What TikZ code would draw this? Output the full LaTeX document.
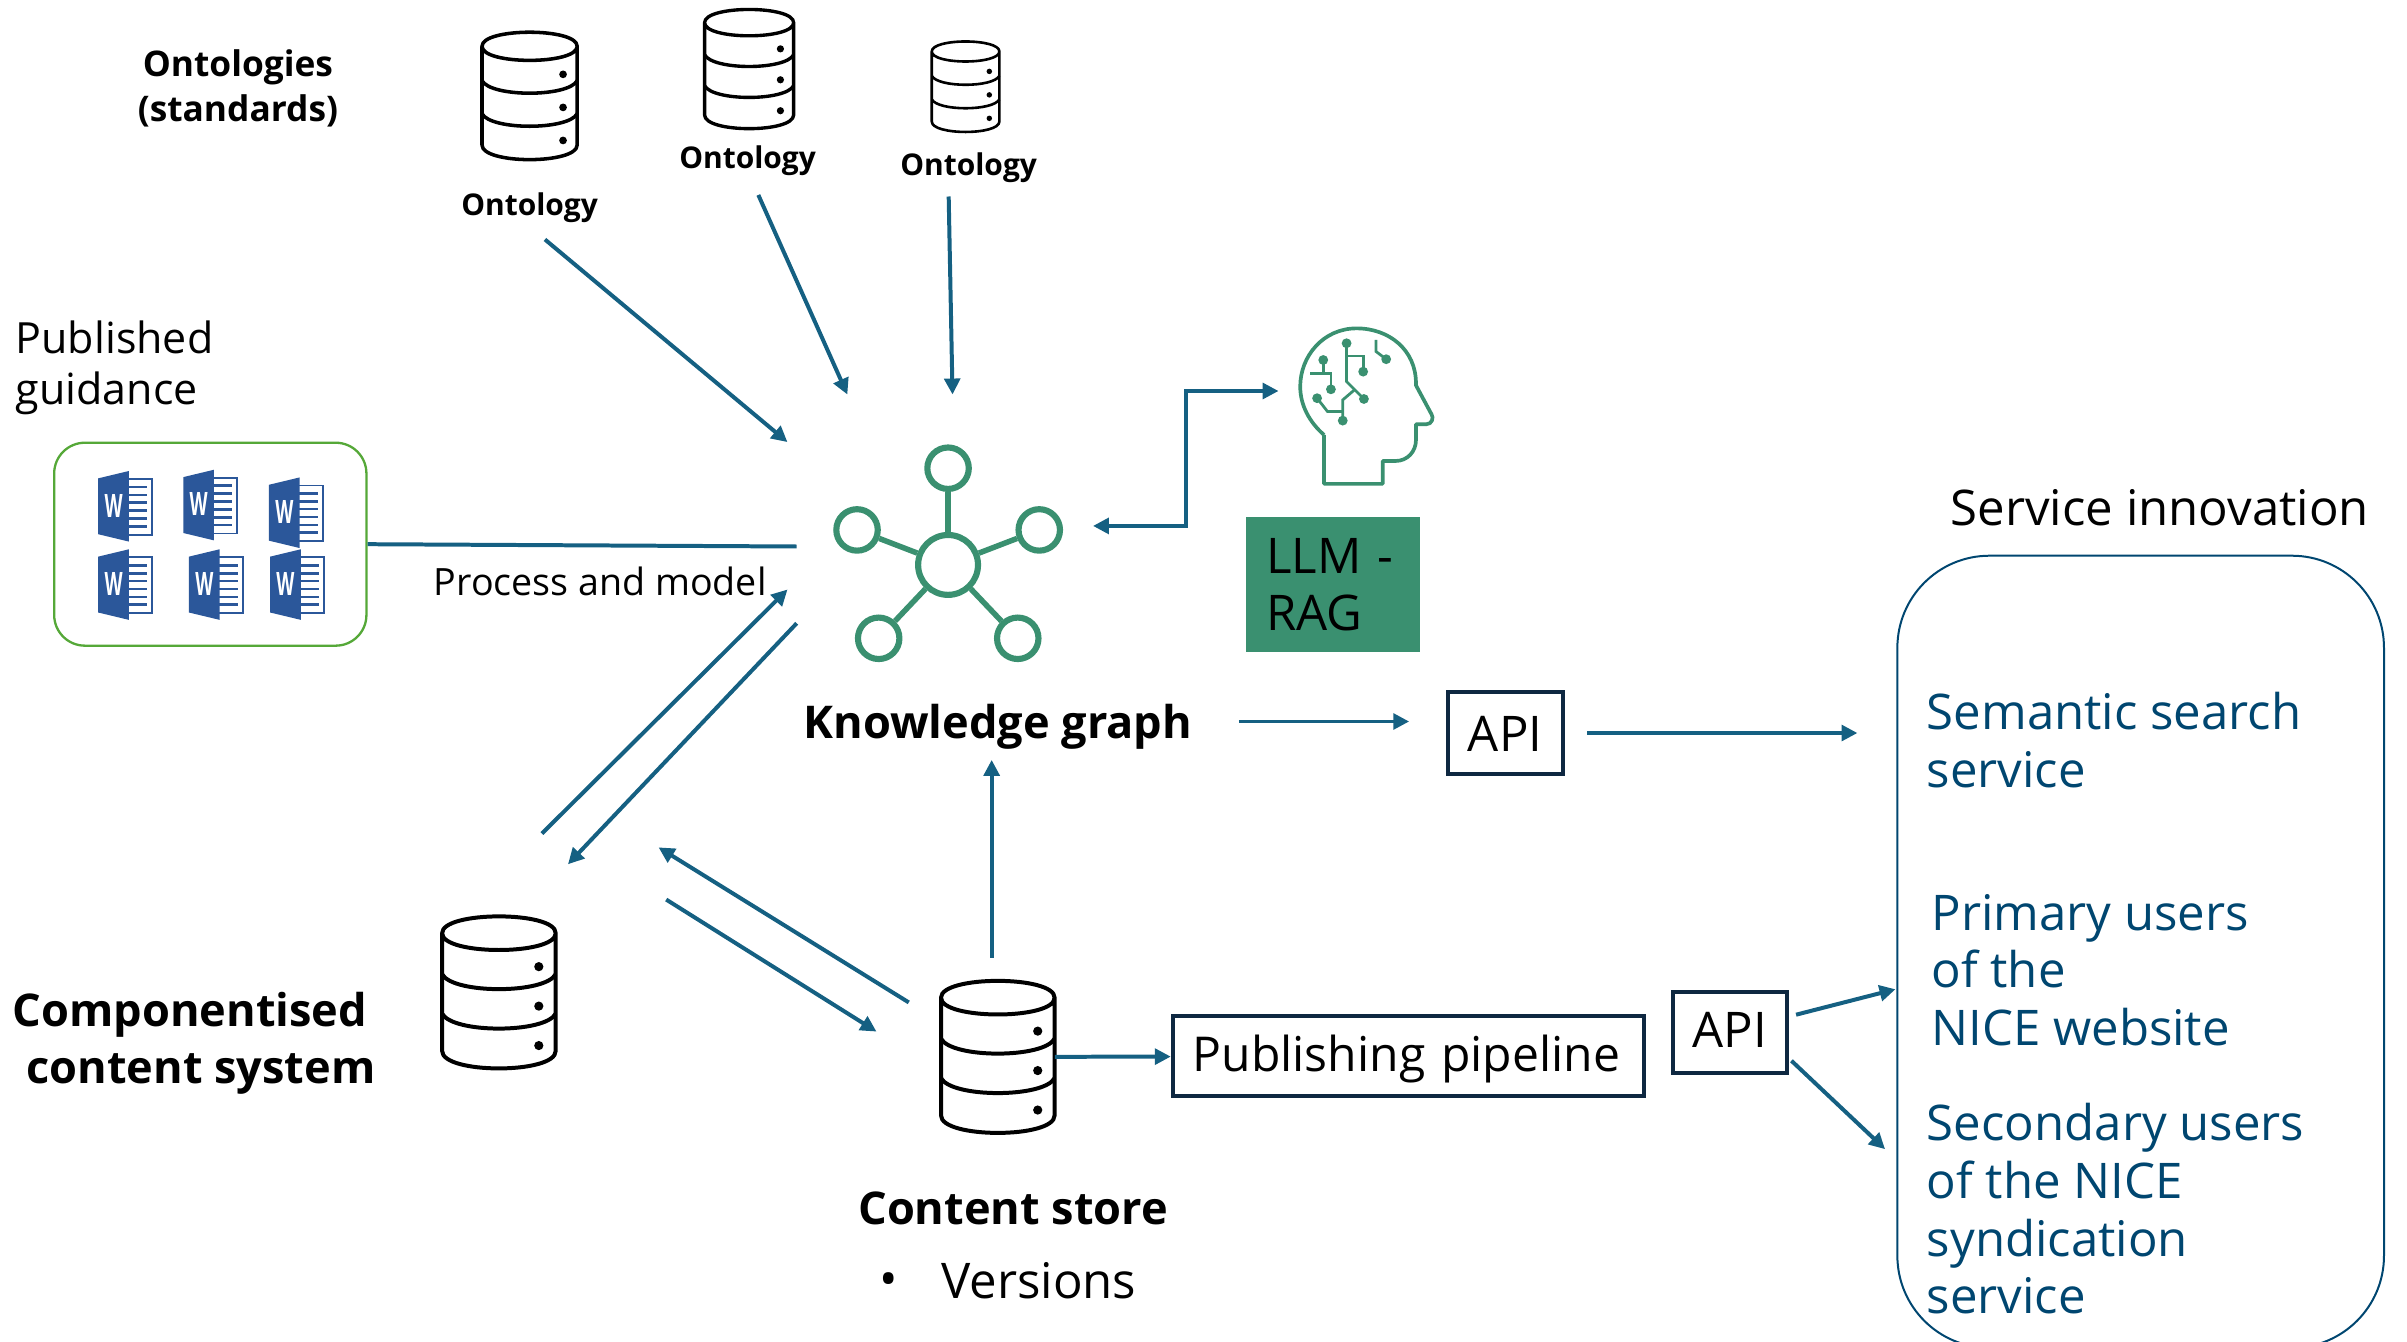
\documentclass[tikz,border=0pt]{standalone}
\usepackage{fontspec}
\setmainfont{Open Sans}
\usepackage{tikz}
\usetikzlibrary{arrows.meta}

\definecolor{flowblue}{HTML}{156082}
\definecolor{svcblue}{HTML}{004670}
\definecolor{nicegreen}{HTML}{3A9070}
\definecolor{boxgreen}{HTML}{55A838}
\definecolor{wordblue}{HTML}{2B579A}
\definecolor{darkline}{HTML}{0E2841}

\tikzset{
  flow/.style={draw=flowblue,line width=2.6pt,-{Triangle[length=10.4pt,width=10.2pt]}},
  flowboth/.style={draw=flowblue,line width=2.6pt,{Triangle[length=10.4pt,width=10.2pt]}-{Triangle[length=10.4pt,width=10.2pt]}},
  body/.style={font=\fontsize{32}{37.5}\selectfont,inner sep=0pt},
  svctext/.style={body,text=svcblue,align=left,anchor=west},
  strong/.style={font=\fontsize{29.4}{37.5}\selectfont\bfseries,inner sep=0pt},
  small/.style={font=\fontsize{19.5}{29}\selectfont\bfseries,inner sep=0pt,align=center},
  apibox/.style={draw=darkline,line width=2.6pt,body,inner sep=0pt,text height=20pt,text depth=0pt},
  hubring/.style={circle,draw=nicegreen,line width=4pt,inner sep=0pt,minimum size=#1},
  hubline/.style={draw=nicegreen,line width=3.6pt},
  icon/.style={inner sep=0pt,minimum width=#1},
  dbicon/.pic={
    \draw[line join=round] (-37,-38.6) .. controls (-37,-53.2) and (37,-53.2) .. (37,-38.6)
      .. controls (37,-24) and (-37,-24) .. (-37,-38.6) -- (-37,38.1)
      .. controls (-37,53.3) and (37,53.3) .. (37,38.1) -- (37,-38.6);
    \foreach \y in {-11.9,13.8} {
      \draw (-37,\y) .. controls (-30,\y+13) and (30,\y+13) .. (37,\y);
      }
    \foreach \y in {-16.8,8.9,34.6} {
      \fill (26,\y) circle[radius=3pt];
      }
  },
  wordicon/.pic={
    \draw[wordblue,line width=1.1pt,fill=white] (2,-17.8) -- (17.4,-17.8) -- (17.4,18.6) -- (2,18.6);
    \foreach \y in {-12.6,-7.4,-2.4,2.8,8,13} {
      \draw[wordblue,line width=1.7pt] (2,\y) -- (14.4,\y);
      }
    \fill[wordblue] (-17.6,-18.2) -- (2.4,-23) -- (2.4,23) -- (-17.6,18.2) -- cycle;
    \node[text=white,font=\fontsize{21}{21}\selectfont\bfseries,inner sep=0pt,xscale=.58,transform shape] at (-7.6,-0.5) {W};
  }
}

\begin{document}
\begin{tikzpicture}[x=1pt,y=-1pt]
  \useasboundingbox (0,0) rectangle (1568,873.6);

  \draw (155,57.5) node[small,font=\fontsize{23}{29}\selectfont\bfseries] (standards) {Ontologies\\(standards)};
  \draw (345,135) node[small] (ontA) {Ontology};
  \draw (487,105) node[small] (ontB) {Ontology};
  \draw (631,109) node[small] (ontC) {Ontology};
    \draw (345,62.5) node[icon=52pt] (dbA) {} pic[scale=.838,line width=2.3pt] {dbicon};
    \draw (488,45) node[icon=48pt] (dbB) {} pic[scale=.784,line width=2.2pt] {dbicon};
    \draw (629,56.5) node[icon=37pt] (dbC) {} pic[scale=.595,line width=1.7pt] {dbicon};

  \draw (10,239.5) node[body,font=\fontsize{28}{33}\selectfont,align=left,anchor=west] (published) {Published\\guidance};
  \draw (137,354.5) node[draw=boxgreen,line width=1.5pt,rounded corners=20pt,minimum width=203.4pt,minimum height=132.2pt] (wordbox) {};
    \draw (81.6,329.8) pic {wordicon};
    \draw (137,329) pic {wordicon};
    \draw (192.8,334) pic {wordicon};
    \draw (81.6,380.8) pic {wordicon};
    \draw (140.7,380.8) pic {wordicon};
    \draw (193.6,380.8) pic {wordicon};
  \draw (391,379) node[font=\fontsize{24.5}{29}\selectfont,inner sep=0pt] (process) {Process and model};

  % knowledge graph
  \draw (617.6,368) node[hubring=39pt] (hub) {};
  \draw (617.6,305) node[hubring=27pt] (hubtop) {};
  \draw (558.3,345.2) node[hubring=27pt] (hubleft) {};
  \draw (677,345.2) node[hubring=27pt] (hubright) {};
  \draw (572.4,415.8) node[hubring=27pt] (hublowleft) {};
  \draw (663,415.8) node[hubring=27pt] (hublowright) {};
    \path (hub) edge[hubline] (hubtop);
    \path (hub) edge[hubline] (hubleft);
    \path (hub) edge[hubline] (hubright);
    \path (hub) edge[hubline] (hublowleft);
    \path (hub) edge[hubline] (hublowright);
  \draw (650,473.5) node[strong] (kg) {Knowledge graph};

  % head
  \draw[nicegreen,line width=2.4pt,line join=round] (862.5,283.3) -- (862.5,315.2) -- (900.7,315.2) -- (900.7,300.3) -- (909,300.3)
    .. controls (917,300.3) and (922.4,294) .. (922.4,286.6) -- (922.4,276.4) -- (929,276.4)
    .. controls (933,276.4) and (934,272) .. (932.6,270) -- (922.4,251) -- (922.4,249.7)
    .. controls (922.4,228) and (905,213.9) .. (883.7,213.9)
    .. controls (862,213.9) and (847,232) .. (847,251.8)
    .. controls (847,264) and (853,275) .. (862.5,283.3);
  \draw[nicegreen,line width=1.8pt] (877.2,223.6) -- (877.2,248.6) -- (888.5,259.9);
  \draw[nicegreen,line width=1.8pt] (877.2,231.9) -- (888,231.9) -- (888,242.1);
  \draw[nicegreen,line width=1.8pt] (882.3,254) -- (874.7,260.5) -- (874.7,274);
  \draw[nicegreen,line width=1.8pt] (874.7,268.1) -- (864.8,268.1) -- (858,259.4);
  \draw[nicegreen,line width=1.8pt] (862,234.5) -- (862,243.2);
  \draw[nicegreen,line width=1.8pt] (853.5,243.2) -- (867,243.2) -- (867,253.6);
  \draw[nicegreen,line width=1.8pt] (896.4,221.4) -- (896.4,229) -- (903,234);
  \foreach \px/\py in {877.2/223.6,888.5/259.9,888/242.1,874.7/274,858/259.4,862/234.5,867/253.6,903/234} {
    \fill[nicegreen] (\px,\py) circle[radius=3.2pt];
    }
  \draw (868.4,380.8) node[fill=nicegreen,minimum width=113.3pt,minimum height=88.5pt,body,align=left,text width=87.3pt,inner xsep=13pt] (llm) {LLM -\\RAG};

  \draw (980.5,477.5) node[apibox,text height=24pt,minimum width=75pt,minimum height=53pt] (apiA) {API};
  \draw (1127,672.5) node[apibox,minimum width=74pt,minimum height=53pt] (apiB) {API};
  \draw (917.5,688) node[apibox,font=\fontsize{31.3}{37.5}\selectfont,align=left,text width=281pt,inner xsep=13pt,minimum height=52pt] (pipeline) {Publishing pipeline};

  \draw (325,646.5) node[icon=74pt] (dbparts) {} pic[line width=2.6pt] {dbicon};
  \draw (650,688.5) node[icon=74pt,minimum height=99pt] (dbstore) {} pic[line width=2.6pt] {dbicon};
  \draw (8,679.5) node[strong,align=left,anchor=west] (parts) {Componentised\\\hspace*{9pt}content system};
  \draw (660,787) node[strong] (store) {Content store};
  \draw (613,834) node[body,anchor=west] (versions) {Versions};
  \draw (579,837) node[body] (bullet) {\textbullet};

  % service box
  \draw (1407,331) node[body] (innovation) {Service innovation};
  \draw (1394.5,620) node[draw=svcblue,line width=1.3pt,rounded corners=60pt,minimum width=317pt,minimum height=516pt] (services) {};
  \draw (1255,482) node[svctext] (semantic) {Semantic search\\service};
  \draw (1258,632) node[svctext] (primary) {Primary users\\of the\\NICE website};
  \draw (1255,787.5) node[svctext] (secondary) {Secondary users\\of the NICE\\syndication\\service};

  % free ends of the connectors
  \draw (355,156) coordinate (ontAout);
  \draw (513,288) coordinate (hubinA);
  \draw (494,127) coordinate (ontBout);
  \draw (552,257) coordinate (hubinB);
  \draw (618,128) coordinate (ontCout);
  \draw (620.5,257) coordinate (hubinC);
  \draw (519,356) coordinate (hubinD);
  \draw (353,543) coordinate (partsup);
  \draw (513,384) coordinate (hubinE);
  \draw (519,406) coordinate (huboutF);
  \draw (370,563) coordinate (partsin);
  \draw (712,342.6) coordinate (hubinG);
  \draw (772.7,342.6) coordinate (cornerA);
  \draw (772.7,254.7) coordinate (cornerB);
  \draw (832.9,254.7) coordinate (headin);
  \draw (807,470) coordinate (kgout);
  \draw (918,470) coordinate (apiAin);
  \draw (1034,477.5) coordinate (apiAout);
  \draw (1210,477.5) coordinate (servicesinA);
  \draw (646,624) coordinate (storeup);
  \draw (646,495) coordinate (kgin);
  \draw (592,653) coordinate (storeoutA);
  \draw (429,552) coordinate (partsinB);
  \draw (434,586) coordinate (partsoutB);
  \draw (571,672) coordinate (storein);
  \draw (1170,661) coordinate (apiBoutA);
  \draw (1234.8,644.4) coordinate (servicesinB);
  \draw (1167,691) coordinate (apiBoutB);
  \draw (1228,748.6) coordinate (servicesinC);

  \path (ontAout) edge[flow] (hubinA);
  \path (ontBout) edge[flow] (hubinB);
  \path (ontCout) edge[flow] (hubinC);
  \draw[draw=flowblue,line width=2.6pt] (wordbox.east) -- (hubinD);
  \path (partsup) edge[flow] (hubinE);
  \path (huboutF) edge[flow] (partsin);
  \draw[flowboth] (hubinG) -- (cornerA) -- (cornerB) -- (headin);
  \path (kgout) edge[flow] (apiAin);
  \path (apiAout) edge[flow] (servicesinA);
  \path (storeup) edge[flow] (kgin);
  \path (storeoutA) edge[flow] (partsinB);
  \path (partsoutB) edge[flow] (storein);
  \path (dbstore) edge[flow] (pipeline);
  \path (apiBoutA) edge[flow] (servicesinB);
  \path (apiBoutB) edge[flow] (servicesinC);

\end{tikzpicture}
\end{document}
